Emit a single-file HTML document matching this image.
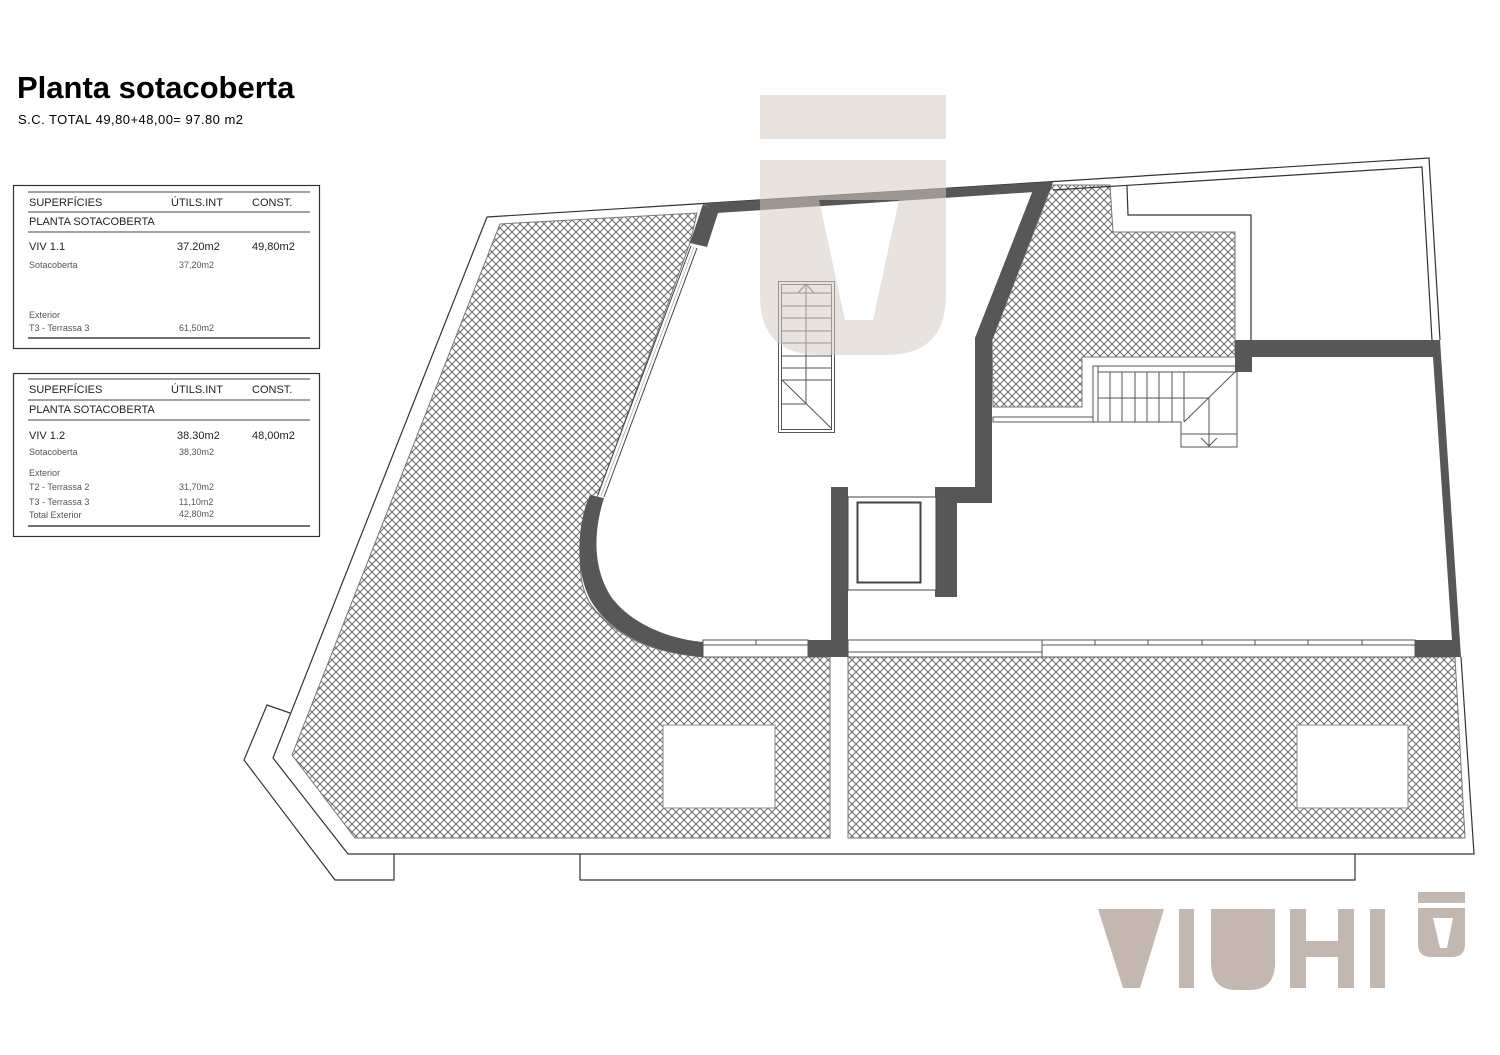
<!DOCTYPE html>
<html><head><meta charset="utf-8"><style>
html,body{margin:0;padding:0;background:#fff;}
svg{display:block;}
text{font-family:"Liberation Sans",sans-serif;}
</style></head><body>
<svg width="1500" height="1055" viewBox="0 0 1500 1055" xmlns="http://www.w3.org/2000/svg">
<defs>
<pattern id="h" width="8" height="8" patternUnits="userSpaceOnUse">
<path d="M0,0 L8,8 M8,0 L0,8" stroke="#6a6a6a" stroke-width="1" fill="none"/>
</pattern>
</defs>
<rect width="1500" height="1055" fill="#fff"/>

<text x="17" y="98" font-size="31" font-weight="bold" fill="#000">Planta sotacoberta</text>
<text x="18" y="124" font-size="13" fill="#000" textLength="225">S.C. TOTAL 49,80+48,00= 97.80 m2</text>

<rect x="13.5" y="185.5" width="306" height="163" fill="none" stroke="#333" stroke-width="1.2"/>
<g stroke="#444" stroke-width="1">
<line x1="28" y1="192" x2="310" y2="192"/><line x1="28" y1="212" x2="310" y2="212"/>
<line x1="28" y1="232" x2="310" y2="232"/><line x1="28" y1="338" x2="310" y2="338" stroke-width="1.5"/>
</g>
<g font-size="11" fill="#222">
<text x="29" y="206">SUPERFÍCIES</text><text x="171" y="206">ÚTILS.INT</text><text x="252" y="206">CONST.</text>
<text x="29" y="225">PLANTA SOTACOBERTA</text>
<text x="29" y="250">VIV  1.1</text><text x="177" y="250">37.20m2</text><text x="252" y="250">49,80m2</text>
</g>
<g font-size="9" fill="#555">
<text x="29" y="268">Sotacoberta</text><text x="179" y="268">37,20m2</text>
<text x="29" y="318">Exterior</text>
<text x="29" y="331">T3 - Terrassa 3</text><text x="179" y="331">61,50m2</text>
</g>

<rect x="13.5" y="373.5" width="306" height="163" fill="none" stroke="#333" stroke-width="1.2"/>
<g stroke="#444" stroke-width="1">
<line x1="28" y1="379" x2="310" y2="379"/><line x1="28" y1="400" x2="310" y2="400"/>
<line x1="28" y1="420" x2="310" y2="420"/><line x1="28" y1="526" x2="310" y2="526" stroke-width="1.5"/>
</g>
<g font-size="11" fill="#222">
<text x="29" y="393">SUPERFÍCIES</text><text x="171" y="393">ÚTILS.INT</text><text x="252" y="393">CONST.</text>
<text x="29" y="413">PLANTA SOTACOBERTA</text>
<text x="29" y="439">VIV  1.2</text><text x="177" y="439">38.30m2</text><text x="252" y="439">48,00m2</text>
</g>
<g font-size="9" fill="#555">
<text x="29" y="455">Sotacoberta</text><text x="179" y="455">38,30m2</text>
<text x="29" y="476">Exterior</text>
<text x="29" y="490">T2 - Terrassa 2</text><text x="179" y="490">31,70m2</text>
<text x="29" y="505">T3 - Terrassa 3</text><text x="179" y="505">11,10m2</text>
<text x="29" y="518">Total Exterior</text><text x="179" y="517">42,80m2</text>
</g>

<g stroke="#777" stroke-width="1" fill="url(#h)">
<path d="M500,224 L697,213 L690,243 L598,495 C 576,540 572,590 600,615 C 620,637 650,652 703,657 L830,657 L830,838 L355,838 L292,755 Z"/>
<path d="M848,657 L1455,657 L1465,838 L848,838 Z"/>
<path d="M1052,185 L1110,185 L1113,232 L1235,232 L1235,357 L1082,357 L1082,407 L993,407 L992,340 Z"/>
</g>
<rect x="663" y="725" width="112" height="83" fill="#fff" stroke="#888"/>
<rect x="1297" y="725" width="111" height="83" fill="#fff" stroke="#888"/>

<g stroke="#333" stroke-width="1.2" fill="none">
<path d="M487,217 L1429,158 L1440,340"/>
<path d="M1461,657 L1474,854 L348,854 L273,758 L487,217"/>
<path d="M290,713 L267,705 L244,760 L335,880 L394,880 L394,854"/>
<path d="M580,854 L580,880 L1355,880 L1355,854"/>
<path d="M1053,190 L1422,167 L1432,340"/>
<path d="M1127,186 L1128,215 L1251,215 L1251,340"/>
</g>

<g fill="#575757">
<path d="M703,203.5 L1053,181.6 L1050,191 L717,213 Z"/>
<path d="M703,204 L718,213 L707,247 L690,243 Z"/>
<path d="M1033,190 L1050,189 L992,340 L992,503 L957,503 L957,597 L935,597 L935,487 L975,487 L975,338 Z"/>
<path d="M590,495 C 578,520 572,575 595,607 C 615,635 650,652 703,657 L703,642 C 660,638 625,618 610,595 C 592,565 594,530 604,498 Z"/>
<rect x="831" y="487" width="17" height="170"/>
<rect x="808" y="640" width="40" height="17"/>
<path d="M1235,340 L1440,340 L1461,657 L1415,657 L1415,640 L1452,640 L1433,357 L1252,357 L1252,372 L1235,372 Z"/>
</g>

<g stroke="#444" stroke-width="1" fill="none">
<line x1="691" y1="246" x2="598" y2="494"/>
<line x1="697" y1="248" x2="604" y2="497"/>
<line x1="694" y1="247" x2="601" y2="496" stroke="#999" stroke-width="0.6"/>
</g>

<g stroke="#555" stroke-width="1" fill="none">
<rect x="703" y="640" width="105" height="17"/>
<line x1="703" y1="645" x2="808" y2="645"/>
<line x1="756" y1="640" x2="756" y2="645"/>
<rect x="848" y="640" width="567" height="17"/>
<line x1="848" y1="652" x2="1042" y2="652"/>
<line x1="1042" y1="645" x2="1415" y2="645"/>
<line x1="1042" y1="640" x2="1042" y2="657"/>
<line x1="1095" y1="640" x2="1095" y2="645"/><line x1="1148" y1="640" x2="1148" y2="645"/>
<line x1="1202" y1="640" x2="1202" y2="645"/><line x1="1255" y1="640" x2="1255" y2="645"/>
<line x1="1308" y1="640" x2="1308" y2="645"/><line x1="1362" y1="640" x2="1362" y2="645"/>
<rect x="993" y="417" width="100" height="5"/>
<rect x="1093" y="366" width="5" height="56"/>
</g>

<rect x="848" y="497" width="88" height="93" fill="#fff" stroke="#444"/>
<rect x="857.5" y="502.5" width="63" height="80" fill="#fff" stroke="#444" stroke-width="2"/>

<g stroke="#555" stroke-width="1" fill="none">
<rect x="778.5" y="281.5" width="56" height="151"/>
<rect x="781.5" y="284.5" width="50" height="145"/>
<path d="M782,293H831 M782,306H831 M782,318H831 M782,331H831 M782,343H831 M782,356H831 M782,368H831 M782,380H831"/>
<path d="M806,284 V404 M782,404 H806 M782,380 L831,428"/>
<path d="M798,293 L806,284 L814,293"/>
</g>

<g stroke="#555" stroke-width="1" fill="none">
<path d="M1098,366 H1237 V447 H1181 V422 H1098"/>
<path d="M1098,372 H1237"/>
<path d="M1110,372V422 M1122,372V422 M1135,372V422 M1147,372V422 M1159,372V422 M1172,372V422 M1184,372V422"/>
<path d="M1098,398 H1209 M1184,422 L1235,372 M1181,434 H1237 M1209,398 V447 M1201,438 L1209,446 L1217,438"/>
</g>

<g fill="#d5ccc4" fill-opacity="0.55">
<rect x="760" y="95" width="186" height="44"/>
<path d="M760,160 H946 V295 Q946,355 886,355 H820 Q760,355 760,295 Z M819,200 L899,200 L873,320 L845,320 Z" fill-rule="evenodd"/>
</g>

<g fill="#c4b7af">
<path d="M1098,909 L1164,909 L1140,988 L1123,988 Z"/>
<rect x="1179" y="909" width="15" height="79"/>
<path d="M1211,909 H1275 V962 Q1275,990 1250,990 H1236 Q1211,990 1211,962 Z"/>
<rect x="1290" y="909" width="16" height="79"/>
<rect x="1338" y="909" width="16" height="79"/>
<rect x="1290" y="941" width="64" height="16"/>
<rect x="1370" y="909" width="15" height="79"/>
<rect x="1418" y="892" width="47" height="11"/>
<path d="M1418,908 H1465 V944 Q1465,957 1452,957 H1431 Q1418,957 1418,944 Z M1433,918 L1453,918 L1447,948 L1440,948 Z" fill-rule="evenodd"/>
</g>
</svg>
</body></html>
